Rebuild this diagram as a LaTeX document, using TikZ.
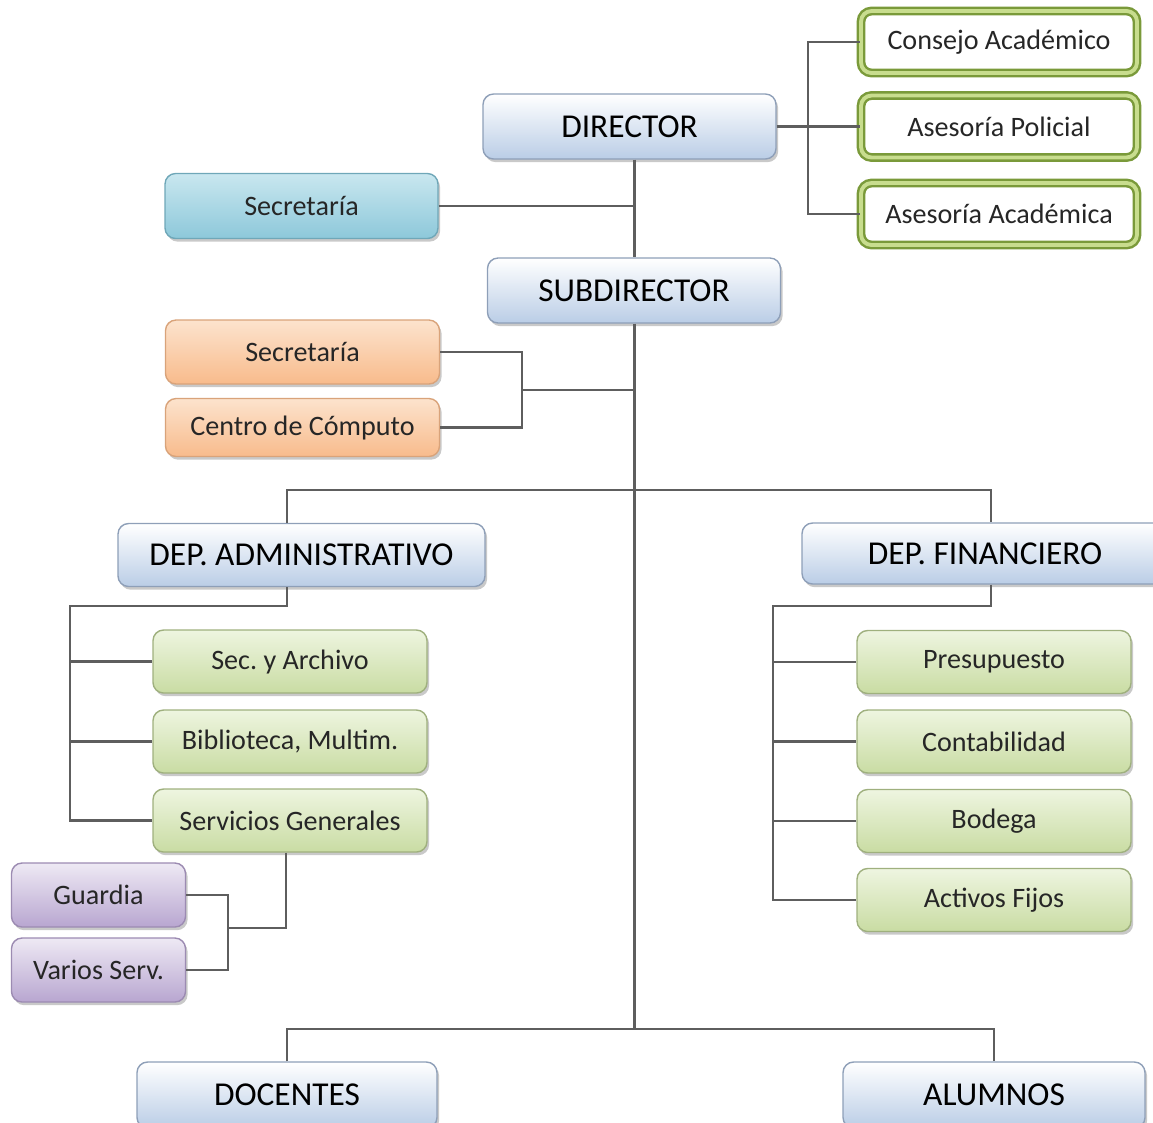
\documentclass[tikz,border=0pt]{standalone}
\usepackage{fontspec}
\setmainfont{Carlito}
\frenchspacing
\usepackage{tikz}
\usetikzlibrary{shadows}
\definecolor{headline}{HTML}{8E9FB8}
\definecolor{headfill}{HTML}{BACDE6}
\definecolor{unitline}{HTML}{9FB07E}
\definecolor{unittop}{HTML}{EEF5E0}
\definecolor{unitfill}{HTML}{C9DCA3}
\definecolor{advline}{HTML}{7A9A3A}
\definecolor{advmid}{HTML}{C8DD8E}
\definecolor{secline}{HTML}{6FA7B8}
\definecolor{sectop}{HTML}{C9E7EF}
\definecolor{secfill}{HTML}{8DC8DA}
\definecolor{supline}{HTML}{D9A37A}
\definecolor{suptop}{HTML}{FCE3CD}
\definecolor{supfill}{HTML}{F8BB8C}
\definecolor{srvline}{HTML}{9C8BB2}
\definecolor{srvtop}{HTML}{EEE9F4}
\definecolor{srvfill}{HTML}{B8A6D0}
\definecolor{linkgray}{HTML}{5E5E5E}
\tikzset{
  box/.style={rounded corners=3pt,align=center,inner sep=2pt,text=black!85,
              font=\fontsize{8}{9.6}\selectfont,
              drop shadow={shadow xshift=0.6pt,shadow yshift=-0.9pt,opacity=0.3,fill=black!70}},
  head/.style={box,draw=headline,top color=white,bottom color=headfill,text=black,
               minimum width=2.93cm,minimum height=0.65cm,font=\fontsize{9.5}{11}\selectfont},
  unit/.style={box,draw=unitline,top color=unittop,bottom color=unitfill,
               minimum width=2.74cm,minimum height=0.63cm},
  advice/.style={box,draw=advline,double=advmid,double distance=1.1pt,line width=0.7pt,
                 fill=white,minimum width=2.76cm,minimum height=0.62cm},
  secbox/.style={box,draw=secline,top color=sectop,bottom color=secfill,
                 minimum width=2.73cm,minimum height=0.65cm},
  supbox/.style={box,draw=supline,top color=suptop,bottom color=supfill,
                 minimum width=2.74cm,minimum height=0.62cm},
  srvbox/.style={box,draw=srvline,top color=srvtop,bottom color=srvfill,
                 minimum width=1.74cm,minimum height=0.64cm},
  link/.style={draw=linkgray,line width=0.6pt}
}
\begin{document}
\begin{tikzpicture}[x=1cm,y=1cm]
  \useasboundingbox (0,0) rectangle (11.53,-11.22);
  % direccion
  \node[head] (dir) at (6.295,-1.265) {DIRECTOR};
  \node[advice] (cons) at (9.99,-0.42) {Consejo Académico};
  \node[advice] (apol) at (9.99,-1.265) {Asesoría Policial};
  \node[advice] (aaca) at (9.99,-2.14) {Asesoría Académica};
  \node[secbox] (sec1) at (3.015,-2.06) {Secretaría};
  \node[head] (sub) at (6.34,-2.905) {SUBDIRECTOR};
  \node[supbox,minimum height=0.64cm] (sec2) at (3.025,-3.52) {Secretaría};
  \node[supbox,minimum height=0.58cm] (comp) at (3.025,-4.275) {Centro de Cómputo};

  % departamentos
  \node[head,minimum width=3.67cm,minimum height=0.63cm] (dadm) at (3.015,-5.55) {DEP. ADMINISTRATIVO};
  \node[head,minimum width=3.66cm,minimum height=0.61cm] (dfin) at (9.85,-5.535) {DEP. FINANCIERO};
  \node[unit] (sarch) at (2.90,-6.615) {Sec. y Archivo};
  \node[unit] (bibl) at (2.90,-7.415) {Biblioteca, Multim.};
  \node[unit] (sgen) at (2.90,-8.205) {Servicios Generales};
  \node[srvbox] (guar) at (0.985,-8.95) {Guardia};
  \node[srvbox] (vari) at (0.985,-9.70) {Varios Serv.};
  \node[unit] (pres) at (9.94,-6.62) {Presupuesto};
  \node[unit] (cont) at (9.94,-7.415) {Contabilidad};
  \node[unit] (bode) at (9.94,-8.21) {Bodega};
  \node[unit] (acti) at (9.94,-9.00) {Activos Fijos};
  \node[head,minimum width=3.0cm,minimum height=0.66cm] (doc) at (2.87,-10.95) {DOCENTES};
  \node[head,minimum width=3.02cm,minimum height=0.66cm] (alu) at (9.94,-10.95) {ALUMNOS};

  % buses
  \coordinate (trunk) at (6.345,-10.29);
  \coordinate (advbus) at (8.08,-1.265);
  \coordinate (supbus) at (5.22,-3.90);
  \coordinate (depbus) at (6.345,-4.90);
  \coordinate (adbus) at (0.70,-6.06);
  \coordinate (fibus) at (7.73,-6.06);
  \coordinate (srvbus) at (2.28,-9.28);

  \draw[link] (dir.south -| trunk) -- (sub.north -| trunk);
  \draw[link] (sub.south -| trunk) -- (trunk);
  \draw[link] (sec1.east) -- (sec1.east -| trunk);
  \draw[link,line width=1.1pt] (dir.east) -- (advbus);
  \draw[link] (advbus) -- (apol.west);
  \draw[link] (cons.west) -| (advbus) |- (aaca.west);
  \draw[link] (sec2.east) -| (supbus) |- (comp.east);
  \draw[link] (supbus) -- (supbus -| trunk);
  \draw[link] ([xshift=-0.145cm]dadm.north) |- (depbus) -| ([xshift=0.06cm]dfin.north);
  % administrativo
  \draw[link] ([xshift=-0.145cm]dadm.south) |- (adbus) |- (sgen.west);
  \draw[link] (adbus |- sarch.west) -- (sarch.west);
  \draw[link] (adbus |- bibl.west) -- (bibl.west);
  \draw[link] ([xshift=-0.04cm]sgen.south) |- (srvbus);
  \draw[link] (guar.east) -| (srvbus) |- (vari.east);
  % financiero
  \draw[link] ([xshift=0.06cm]dfin.south) |- (fibus) |- (acti.west);
  \draw[link] (fibus |- pres.west) -- (pres.west);
  \draw[link] (fibus |- cont.west) -- (cont.west);
  \draw[link] (fibus |- bode.west) -- (bode.west);
  % docentes y alumnos
  \draw[link] (doc.north) |- (trunk) -| (alu.north);
\end{tikzpicture}
\end{document}
